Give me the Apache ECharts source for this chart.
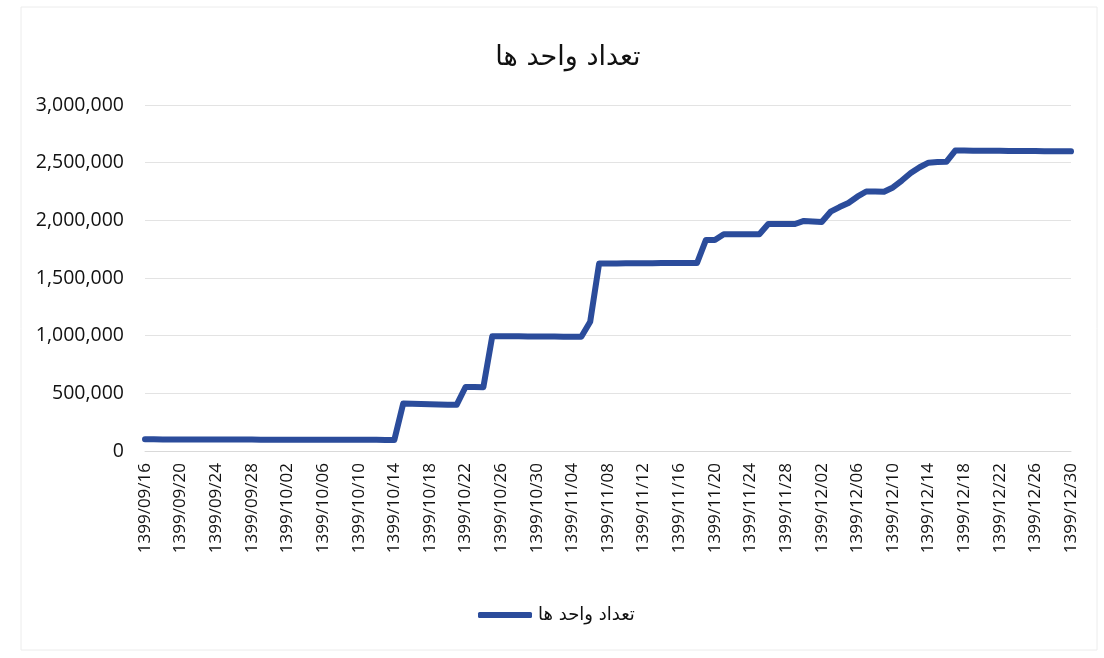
<!DOCTYPE html>
<html>
<head>
<meta charset="utf-8">
<script src="https://cdn.jsdelivr.net/npm/echarts@6/dist/echarts.min.js"></script>
<style>
html,body{margin:0;padding:0;background:#fff;}
#chart{width:1104px;height:658px;}
</style>
</head>
<body>
<div id="chart"></div>
<script>
// Persian calendar dates 1399/09/16 .. 1399/12/30 (one per day)
const months = ['09','10','11','12'];
const monthStartDay = [16, 1, 1, 1];
const monthEndDay = [30, 30, 30, 30];
const categories = [];
for (let m = 0; m < months.length; m++) {
  for (let d = monthStartDay[m]; d <= monthEndDay[m]; d++) {
    categories.push('1399/' + months[m] + '/' + (d < 10 ? '0' + d : '' + d));
  }
}

const seriesName = 'تعداد واحد ها';
const titleText = 'تعداد واحد ها';

// daily values
const units = [
  101000, 101000, 100500, 100500, 100000, 100000, 100000, 99500, 99500, 99500,
  99000, 99000, 99000, 98500, 98500, 98500, 98000, 98000, 98000, 97500,
  97500, 97500, 97000, 97000, 97000, 96500, 96500, 96000, 96000,
  412000, 410000, 408000, 406000, 404000, 402000, 400000,
  555000, 555000, 553000,
  995000, 995000, 994000, 994000, 993000, 993000, 992000, 992000, 991000, 991000, 990000,
  1120000,
  1625000, 1626000, 1626000, 1627000, 1627000, 1628000, 1628000, 1629000, 1629000, 1630000, 1630000, 1630000,
  1830000, 1830000,
  1880000, 1880000, 1880000, 1880000, 1880000,
  1968000, 1968000, 1968000, 1968000,
  1995000, 1990000, 1985000,
  2075000, 2115000, 2150000, 2205000,
  2250000, 2250000, 2248000,
  2285000, 2345000, 2410000, 2460000,
  2500000, 2505000, 2507000,
  2605000, 2605000, 2604000, 2604000, 2603000, 2603000, 2602000, 2602000, 2601000, 2601000, 2600000, 2600000, 2599000, 2598000
];

const yTicks = [0, 500000, 1000000, 1500000, 2000000, 2500000, 3000000];

const chart = echarts.init(document.getElementById('chart'), null, {renderer: 'canvas'});
chart.setOption({
  backgroundColor: '#ffffff',
  animation: false,
  title: {
    text: titleText,
    left: 563,
    textAlign: 'center',
    top: 39,
    textStyle: {fontFamily: 'DejaVu Sans', fontSize: 27, fontWeight: 'normal', color: '#111111'}
  },
  graphic: [{
    type: 'rect',
    shape: {x: 21, y: 7, width: 1076, height: 643},
    style: {fill: 'none', stroke: '#ececec', lineWidth: 1},
    silent: true
  }],
  legend: {
    data: [seriesName],
    left: 478,
    top: 606,
    padding: 0,
    icon: 'roundRect',
    itemWidth: 54,
    itemHeight: 6,
    itemGap: 4,
    textStyle: {fontFamily: 'DejaVu Sans', fontSize: 18, color: '#111111', padding: [0, 0, 0, 1]}
  },
  grid: {left: 145, right: 33, top: 105, bottom: 207, containLabel: false},
  xAxis: {
    type: 'category',
    data: categories,
    boundaryGap: false,
    axisLine: {show: true, lineStyle: {color: '#d9d9d9', width: 1}},
    axisTick: {show: false},
    axisLabel: {
      interval: 3,
      rotate: 90,
      margin: 12,
      fontFamily: 'Open Sans',
      fontSize: 17,
      color: '#111111'
    },
    splitLine: {show: false}
  },
  yAxis: {
    type: 'value',
    min: yTicks[0],
    max: yTicks[yTicks.length - 1],
    interval: yTicks[1] - yTicks[0],
    axisLine: {show: false},
    axisTick: {show: false},
    axisLabel: {
      margin: 21,
      fontFamily: 'Open Sans',
      fontSize: 19.5,
      color: '#111111',
      formatter: v => v.toLocaleString('en-US')
    },
    splitLine: {show: true, lineStyle: {color: '#e3e3e3', width: 1}}
  },
  series: [{
    name: seriesName,
    type: 'line',
    data: units,
    symbol: 'none',
    showSymbol: false,
    lineStyle: {color: '#2b4c9b', width: 6, cap: 'round', join: 'round'},
    itemStyle: {color: '#2b4c9b'}
  }]
});
</script>
</body>
</html>
